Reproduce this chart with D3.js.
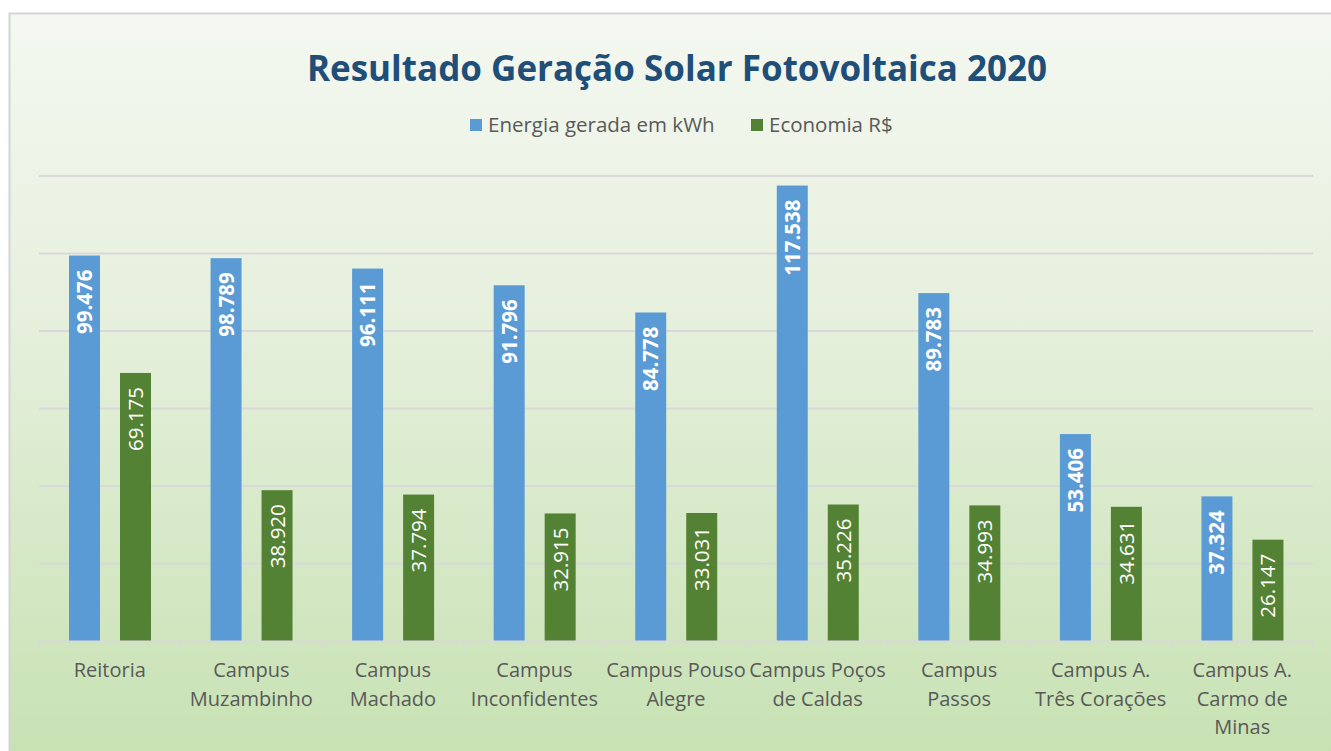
<!DOCTYPE html>
<html>
<head>
<meta charset="utf-8">
<script src="https://cdn.jsdelivr.net/npm/d3@7"></script>
<style>
  body { margin: 0; background: #fff; }
  svg { display: block; font-family: "Open Sans", "Noto Sans", sans-serif; }
</style>
</head>
<body>
<div id="chart"></div>
<script>
const categories = [
  ['Reitoria'],
  ['Campus', 'Muzambinho'],
  ['Campus', 'Machado'],
  ['Campus', 'Inconfidentes'],
  ['Campus Pouso', 'Alegre'],
  ['Campus Poços', 'de Caldas'],
  ['Campus', 'Passos'],
  ['Campus A.', 'Três Corações'],
  ['Campus A.', 'Carmo de', 'Minas']
]
const energia = [99.476, 98.789, 96.111, 91.796, 84.778, 117.538, 89.783, 53.406, 37.324]
const economia = [69.175, 38.920, 37.794, 32.915, 33.031, 35.226, 34.993, 34.631, 26.147]
const yTicks = [0, 20, 40, 60, 80, 100, 120]
const seriesNames = ['Energia gerada em kWh', 'Economia R$']

const w = 1331
const h = 751
const plotLeft = 39, plotRight = 1313, plotTop = 176, plotBottom = 641

const svg = d3.select('#chart').append('svg')
  .attr('width', w)
  .attr('height', h)

const grad = svg.append('defs').append('linearGradient')
  .attr('id', 'bg')
  .attr('x1', 0).attr('y1', 0).attr('x2', 0).attr('y2', 1)
grad.append('stop').attr('offset', '0%').attr('stop-color', '#f4f8f1')
grad.append('stop').attr('offset', '40%').attr('stop-color', '#e6f0dd')
grad.append('stop').attr('offset', '100%').attr('stop-color', '#c6e1b1')

svg.append('rect')
  .attr('x', 9.5).attr('y', 13.5)
  .attr('width', w + 10).attr('height', h + 10)
  .attr('fill', 'url(#bg)')
  .attr('stroke', '#d4d4d4')
  .attr('stroke-width', 2)

const x = d3.scaleBand()
  .domain(d3.range(categories.length))
  .range([plotLeft, plotRight])

const y = d3.scaleLinear()
  .domain([0, 120])
  .range([plotBottom, plotTop])

// gridlines
svg.append('g')
  .selectAll('line')
  .data(yTicks.slice(1))
  .enter()
  .append('line')
  .attr('x1', plotLeft).attr('x2', plotRight)
  .attr('y1', d => y(d)).attr('y2', d => y(d))
  .attr('stroke', '#d9d9d9')
  .attr('stroke-width', 2)

const barW = 31
const offsets = [30, 81]
const colors = ['#5b9bd5', '#548235']
const series = [energia, economia]

series.forEach((vals, s) => {
  const g = svg.append('g')
  g.selectAll('rect')
    .data(vals)
    .enter()
    .append('rect')
    .attr('x', (d, i) => x(i) + offsets[s])
    .attr('y', d => y(d))
    .attr('width', barW)
    .attr('height', d => y(0) - y(d))
    .attr('fill', colors[s])

  g.selectAll('text')
    .data(vals)
    .enter()
    .append('text')
    .attr('transform', (d, i) => 'translate(' + (x(i) + offsets[s] + barW / 2 + 7.5) + ',' + (y(d) + 14) + ') rotate(-90)')
    .attr('text-anchor', 'end')
    .attr('fill', '#fff')
    .attr('font-size', 20.5)
    .attr('font-weight', s === 0 ? 'bold' : 'normal')
    .text(d => d.toFixed(3))
})

// x axis
const xAxis = d3.axisBottom(x).tickSize(0).tickFormat('')
const ax = svg.append('g')
  .attr('transform', 'translate(0,' + plotBottom + ')')
  .call(xAxis)
ax.select('.domain').attr('stroke', '#d9d9d9').attr('stroke-width', 2)
ax.selectAll('.sep')
  .data(d3.range(categories.length + 1))
  .enter()
  .append('line')
  .attr('x1', i => plotLeft + i * x.bandwidth())
  .attr('x2', i => plotLeft + i * x.bandwidth())
  .attr('y1', 0).attr('y2', 6)
  .attr('stroke', '#d9d9d9')
  .attr('stroke-width', 2)

svg.append('g')
  .selectAll('text')
  .data(categories)
  .enter()
  .append('text')
  .attr('x', (d, i) => x(i) + x.bandwidth() / 2)
  .attr('y', 677)
  .attr('text-anchor', 'middle')
  .attr('fill', '#595959')
  .attr('font-size', 20)
  .selectAll('tspan')
  .data(d => d)
  .enter()
  .append('tspan')
  .attr('x', function () { return d3.select(this.parentNode).attr('x') })
  .attr('dy', (d, i) => i === 0 ? 0 : 28.5)
  .text(d => d)

// title
svg.append('text')
  .attr('x', 677)
  .attr('y', 81)
  .attr('text-anchor', 'middle')
  .attr('fill', '#1f4e79')
  .attr('font-size', 35)
  .attr('font-weight', 'bold')
  .text('Resultado Geração Solar Fotovoltaica 2020')

// legend
const legX = [470, 751]
seriesNames.forEach((name, s) => {
  svg.append('rect')
    .attr('x', legX[s]).attr('y', 119)
    .attr('width', 12).attr('height', 12)
    .attr('fill', colors[s])
  svg.append('text')
    .attr('x', legX[s] + 18)
    .attr('y', 132)
    .attr('fill', '#595959')
    .attr('font-size', 20.5)
    .text(name)
})
</script>
</body>
</html>
